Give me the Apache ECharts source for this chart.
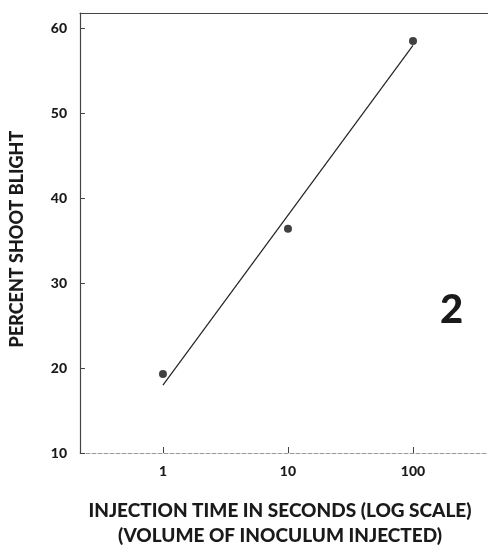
<!DOCTYPE html>
<html>
<head>
<meta charset="utf-8">
<script src="https://cdn.jsdelivr.net/npm/echarts@6/dist/echarts.min.js"></script>
<style>
  html, body { margin: 0; padding: 0; background: #fff; }
  #chart { width: 488px; height: 545px; }
</style>
</head>
<body>
<div id="chart"></div>
<script>
// observed points (injection time in s, percent shoot blight)
const injectionTimes = [1, 10, 100]
const blightPercent = [19.3, 36.4, 58.5]
// fitted regression line end points
const fitTimes = [1, 100]
const fitPercent = [18.0, 58.0]
const xTicks = [1, 10, 100]
const yTicks = [10, 20, 30, 40, 50, 60]

const font = 'Lato, "DejaVu Sans", sans-serif'
const ink = '#1a1a1a'

const chart = echarts.init(document.getElementById('chart'))

chart.setOption({
  animation: false,
  grid: { left: 80, right: 0, top: 13, bottom: 92, outerBoundsMode: 'none' },
  xAxis: [
    {
      type: 'log',
      logBase: 10,
      min: 0.217,
      max: 398,
      name: 'INJECTION TIME IN SECONDS (LOG SCALE)\n(VOLUME OF INOCULUM INJECTED)',
      nameLocation: 'middle',
      nameGap: 45,
      nameTextStyle: { fontFamily: font, fontWeight: 900, fontSize: 19, color: ink, lineHeight: 25, padding: [0, 8, 0, 0] },
      axisLine: { lineStyle: { color: '#999', width: 1, type: [4, 2] } },
      axisTick: { inside: true, length: 6, customValues: xTicks, lineStyle: { color: '#444' } },
      axisLabel: { customValues: xTicks, margin: 11, fontFamily: font, fontWeight: 900, fontSize: 14, color: ink, formatter: v => String(v) },
      splitLine: { show: false }
    },
    {
      type: 'value',
      position: 'top',
      axisLine: { show: true, lineStyle: { color: '#444', width: 1.2 } },
      axisTick: { show: false },
      axisLabel: { show: false },
      splitLine: { show: false }
    }
  ],
  yAxis: {
    type: 'value',
    min: 10,
    max: 61.8,
    interval: 10,
    name: 'PERCENT SHOOT BLIGHT',
    nameLocation: 'middle',
    nameGap: 54,
    nameTextStyle: { fontFamily: font, fontWeight: 900, fontSize: 18, color: ink, padding: [0, 12, 0, 0] },
    axisLine: { show: true, lineStyle: { color: '#444', width: 1.2 } },
    axisTick: { inside: true, length: 5, customValues: yTicks, lineStyle: { color: '#444' } },
    axisLabel: { customValues: yTicks, margin: 13, fontFamily: font, fontWeight: 900, fontSize: 14, color: ink },
    splitLine: { show: false }
  },
  series: [
    {
      type: 'line',
      data: fitTimes.map((t, i) => [t, fitPercent[i]]),
      symbol: 'none',
      lineStyle: { color: '#222', width: 1.2 }
    },
    {
      type: 'scatter',
      data: injectionTimes.map((t, i) => [t, blightPercent[i]]),
      symbolSize: 8,
      itemStyle: { color: '#111' }
    }
  ],
  graphic: [
    {
      type: 'text',
      left: 440,
      top: 290,
      style: { text: '2', font: '900 40px ' + font, fill: ink }
    }
  ]
})
</script>
</body>
</html>
